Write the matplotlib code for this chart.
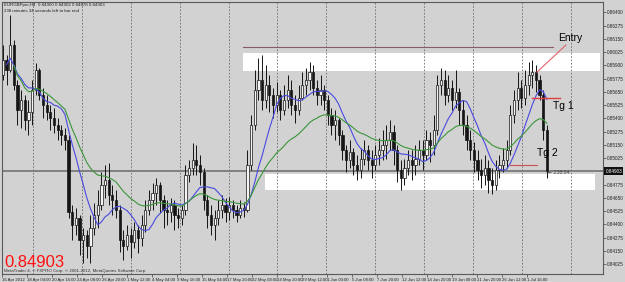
import numpy as np
import pandas as pd
import matplotlib
matplotlib.use("Agg")
import matplotlib.pyplot as plt
import matplotlib.transforms as mtransforms

# EURGBP H4 bars
closes = [0.8595, 0.8586, 0.8609, 0.8571, 0.8548, 0.8557, 0.8538, 0.8546, 0.8567, 0.8586,
          0.8562, 0.8553, 0.8546, 0.8540, 0.8534, 0.8529, 0.8524, 0.8520, 0.8452, 0.8439,
          0.8446, 0.8425, 0.8430, 0.8420, 0.8437, 0.8449, 0.8458, 0.8477, 0.8482, 0.8468,
          0.8463, 0.8454, 0.8425, 0.8420, 0.8430, 0.8423, 0.8435, 0.8427, 0.8439, 0.8454,
          0.8463, 0.8470, 0.8477, 0.8463, 0.8454, 0.8452, 0.8458, 0.8449, 0.8446, 0.8454,
          0.8487, 0.8493, 0.8501, 0.8496, 0.8489, 0.8463, 0.8449, 0.8439, 0.8446, 0.8454,
          0.8458, 0.8452, 0.8458, 0.8454, 0.8449, 0.8455, 0.8454, 0.8496, 0.8534, 0.8567,
          0.8576, 0.8557, 0.8571, 0.8562, 0.8553, 0.8562, 0.8548, 0.8557, 0.8567, 0.8553,
          0.8548, 0.8559, 0.8571, 0.8576, 0.8584, 0.8569, 0.8562, 0.8567, 0.8557, 0.8543,
          0.8534, 0.8538, 0.8524, 0.8510, 0.8501, 0.8508, 0.8496, 0.8491, 0.8502, 0.8510,
          0.8501, 0.8496, 0.8505, 0.8510, 0.8515, 0.8520, 0.8527, 0.8510, 0.8491, 0.8484,
          0.8493, 0.8501, 0.8496, 0.8502, 0.8510, 0.8505, 0.8520, 0.8515, 0.8529, 0.8571,
          0.8576, 0.8562, 0.8569, 0.8557, 0.8565, 0.8548, 0.8534, 0.8520, 0.8510, 0.8501,
          0.8491, 0.8487, 0.8493, 0.8482, 0.8477, 0.8491, 0.8496, 0.8501, 0.8510, 0.8543,
          0.8557, 0.8569, 0.8559, 0.8571, 0.8581, 0.8584, 0.8576, 0.8562, 0.8529, 0.84903]
highs = [0.8609, 0.8600, 0.8637, 0.8614, 0.8576, 0.8567, 0.8562, 0.8557, 0.8576, 0.8592,
         0.8587, 0.8569, 0.8562, 0.8553, 0.8550, 0.8540, 0.8534, 0.8531, 0.8524, 0.8458,
         0.8455, 0.8449, 0.8437, 0.8435, 0.8449, 0.8460, 0.8472, 0.8489, 0.8496, 0.8498,
         0.8477, 0.8472, 0.8458, 0.8435, 0.8439, 0.8437, 0.8442, 0.8439, 0.8449, 0.8463,
         0.8472, 0.8479, 0.8484, 0.8480, 0.8468, 0.8463, 0.8465, 0.8463, 0.8455, 0.8458,
         0.8496, 0.8501, 0.8517, 0.8515, 0.8505, 0.8493, 0.8468, 0.8458, 0.8454, 0.8463,
         0.8468, 0.8465, 0.8466, 0.8463, 0.8458, 0.8463, 0.8461, 0.8510, 0.8543, 0.8586,
         0.8597, 0.8600, 0.8590, 0.8581, 0.8569, 0.8574, 0.8567, 0.8571, 0.8581, 0.8576,
         0.8562, 0.8571, 0.8584, 0.8587, 0.8593, 0.8590, 0.8576, 0.8581, 0.8571, 0.8562,
         0.8550, 0.8548, 0.8540, 0.8529, 0.8515, 0.8520, 0.8512, 0.8505, 0.8512, 0.8520,
         0.8515, 0.8510, 0.8515, 0.8521, 0.8529, 0.8534, 0.8538, 0.8534, 0.8515, 0.8501,
         0.8502, 0.8510, 0.8510, 0.8515, 0.8520, 0.8520, 0.8529, 0.8527, 0.8543, 0.8581,
         0.8587, 0.8586, 0.8581, 0.8576, 0.8586, 0.8569, 0.8557, 0.8543, 0.8529, 0.8518,
         0.8510, 0.8502, 0.8505, 0.8501, 0.8493, 0.8501, 0.8505, 0.8512, 0.8520, 0.8553,
         0.8567, 0.8584, 0.8576, 0.8586, 0.8593, 0.8595, 0.8590, 0.8581, 0.8567, 0.8534]
lows = [0.8576, 0.8571, 0.8584, 0.8567, 0.8534, 0.8531, 0.8529, 0.8524, 0.8534, 0.8562,
        0.8557, 0.8540, 0.8538, 0.8529, 0.8526, 0.8520, 0.8515, 0.8510, 0.8446, 0.8425,
        0.8430, 0.8411, 0.8404, 0.8408, 0.8404, 0.8430, 0.8437, 0.8454, 0.8465, 0.8458,
        0.8449, 0.8446, 0.8414, 0.8406, 0.8416, 0.8408, 0.8418, 0.8413, 0.8420, 0.8433,
        0.8449, 0.8454, 0.8458, 0.8451, 0.8437, 0.8439, 0.8442, 0.8435, 0.8437, 0.8439,
        0.8449, 0.8480, 0.8487, 0.8487, 0.8477, 0.8454, 0.8437, 0.8430, 0.8425, 0.8439,
        0.8446, 0.8442, 0.8444, 0.8446, 0.8442, 0.8446, 0.8447, 0.8452, 0.8491, 0.8529,
        0.8557, 0.8548, 0.8550, 0.8546, 0.8540, 0.8546, 0.8538, 0.8543, 0.8550, 0.8543,
        0.8536, 0.8543, 0.8557, 0.8562, 0.8567, 0.8562, 0.8553, 0.8553, 0.8548, 0.8534,
        0.8524, 0.8520, 0.8515, 0.8501, 0.8489, 0.8493, 0.8487, 0.8482, 0.8484, 0.8496,
        0.8491, 0.8484, 0.8491, 0.8496, 0.8501, 0.8502, 0.8510, 0.8496, 0.8480, 0.8472,
        0.8477, 0.8487, 0.8482, 0.8487, 0.8496, 0.8491, 0.8501, 0.8499, 0.8505, 0.8524,
        0.8562, 0.8553, 0.8555, 0.8548, 0.8550, 0.8534, 0.8524, 0.8510, 0.8501, 0.8489,
        0.8482, 0.8474, 0.8477, 0.8470, 0.8469, 0.8472, 0.8484, 0.8489, 0.8493, 0.8505,
        0.8536, 0.8548, 0.8550, 0.8553, 0.8562, 0.8569, 0.8565, 0.8557, 0.8520, 0.8484]
first_open = 0.8581
opens = [first_open] + closes[:-1]

last_price = 0.84903
price_ticks = [0.86400, 0.86275, 0.86150, 0.86025, 0.85900, 0.85775, 0.85650,
               0.85525, 0.85400, 0.85275, 0.85150, 0.85025, 0.84775, 0.84650,
               0.84525, 0.84400, 0.84275, 0.84150, 0.84025]
time_labels = ["16 Apr 2012", "18 Apr 04:00", "20 Apr 16:00", "24 Apr 08:00",
               "26 Apr 20:00", "1 May 12:00", "4 May 04:00", "9 May 16:00",
               "15 May 04:00", "17 May 20:00", "22 May 08:00", "24 May 20:00",
               "29 May 12:00", "1 Jun 00:00", "5 Jun 08:00", "7 Jun 20:00",
               "12 Jun 12:00", "14 Jun 20:00", "19 Jun 08:00", "21 Jun 20:00",
               "26 Jun 12:00", "1 Jul 16:00"]

bg = "#d2d2d2"
o = np.array(opens)
c = np.array(closes)
h = np.array(highs)
l = np.array(lows)
x = np.arange(len(c))

fig = plt.figure(figsize=(6.25, 2.82), dpi=100, facecolor=bg)
ax = fig.add_axes([0.003, 0.028, 0.962, 0.965])
ax.set_facecolor(bg)

# zones
ax.fill_between([65.8, 163.6], 0.85845, 0.86015, color="white", lw=0, zorder=0.5)
ax.fill_between([71.8, 162.2], 0.84723, 0.84874, color="white", lw=0, zorder=0.5)
ax.plot([65.8, 150.7], [0.86072, 0.86072], color="#8a5a66", lw=0.8, zorder=1)

# grid
for gx in np.arange(8.2, 164, 13.4):
    ax.axvline(gx, color="#6a6a6a", lw=0.6, ls=(0, (2, 2)), zorder=0.8)

# current price line
ax.axhline(last_price, color="#7a7a7a", lw=1.3, zorder=1)

# candles
up = c >= o
ax.vlines(x, l, h, color="#151515", lw=0.7, zorder=2)
ax.bar(x[up], np.maximum(c - o, 0.00002)[up], bottom=o[up], width=0.6,
       color="#f4f4f4", edgecolor="#151515", lw=0.5, zorder=3)
ax.bar(x[~up], (o - c)[~up], bottom=c[~up], width=0.6,
       color="#151515", edgecolor="#151515", lw=0.5, zorder=3)

# moving averages
s = pd.Series(closes)
fast = s.rolling(9, min_periods=1).mean()
slow = s.ewm(span=26).mean()
ax.plot(x[1:], fast[1:], color="#4a4ae0", lw=0.8, zorder=4)
ax.plot(x[3:], slow[3:], color="#3a963a", lw=0.8, zorder=4)

# annotations
ax.text(152, 0.86157, "Entry", fontsize=7.5, family="Liberation Sans",
        va="center", ha="left", zorder=6)
ax.plot([154.2, 146.3], [0.86091, 0.85836], color="#e06070", lw=0.8, zorder=5)
ax.plot([144.9, 152.6], [0.85591, 0.85591], color="#e04040", lw=1.0, zorder=5)
ax.text(150.7, 0.85515, "Tg 1", fontsize=7.5, family="Liberation Sans",
        va="center", ha="left", zorder=6)
ax.plot([138.9, 146.3], [0.84959, 0.84959], color="#d05050", lw=0.8, zorder=5)
ax.text(146.3, 0.85072, "Tg 2", fontsize=7.5, family="Liberation Sans",
        va="center", ha="left", zorder=6)
ax.text(149.3, 0.84885, "\u2190 238:04", fontsize=3.3, color="#404040",
        va="center", ha="left", zorder=6)

ax.text(0.004, 0.016, "%.5f" % last_price, transform=ax.transAxes, color="#ff1010",
        fontsize=12, family="Liberation Sans", va="bottom", ha="left", zorder=7)
ax.text(0.004, 0.004, "MetaTrader 4, \u00a9 FXPRO Corp. \u00a9 2001-2012, MetaQuotes Software Corp.",
        transform=ax.transAxes, fontsize=3.2, family="Liberation Sans", color="#303030",
        va="bottom", ha="left", zorder=7)
ax.text(0.004, 0.995, "EURGBPpro,H4  0.84900 0.84902 0.84878 0.84903",
        transform=ax.transAxes, fontsize=3.2, family="Liberation Sans", color="#202020",
        va="top", ha="left", zorder=7)
ax.text(0.004, 0.974, "238 minutes 34 seconds left to bar end",
        transform=ax.transAxes, fontsize=3.2, family="Liberation Sans", color="#202020",
        va="top", ha="left", zorder=7)

# axes
ax.set_xlim(-0.27, 164.4)
ax.set_ylim(0.83931, 0.86497)
for sp in ax.spines.values():
    sp.set_color("#5a5a5a")
    sp.set_linewidth(0.8)
ax.yaxis.tick_right()
ax.set_yticks(price_ticks)
ax.set_yticklabels(["%.5f" % p for p in price_ticks], family="Liberation Sans")
ax.tick_params(axis="y", labelsize=3.3, length=2, width=0.5, pad=1,
               colors="#404040", labelcolor="#202020")
ax.set_xticks(np.arange(len(time_labels)) * 6.85 - 0.27)
ax.set_xticklabels(time_labels, ha="left", family="Liberation Sans")
ax.tick_params(axis="x", labelsize=3.1, length=2, width=0.5, pad=1,
               colors="#404040", labelcolor="#202020")

trans = mtransforms.blended_transform_factory(ax.transAxes, ax.transData)
ax.text(1.004, last_price, "%.5f" % last_price, transform=trans, fontsize=3.3,
        family="Liberation Sans", color="white", va="center", ha="left", zorder=8,
        clip_on=False, bbox=dict(boxstyle="square,pad=0.25", fc="#111111", ec="none"))

fig.savefig("out.png", dpi=100, facecolor=bg)
